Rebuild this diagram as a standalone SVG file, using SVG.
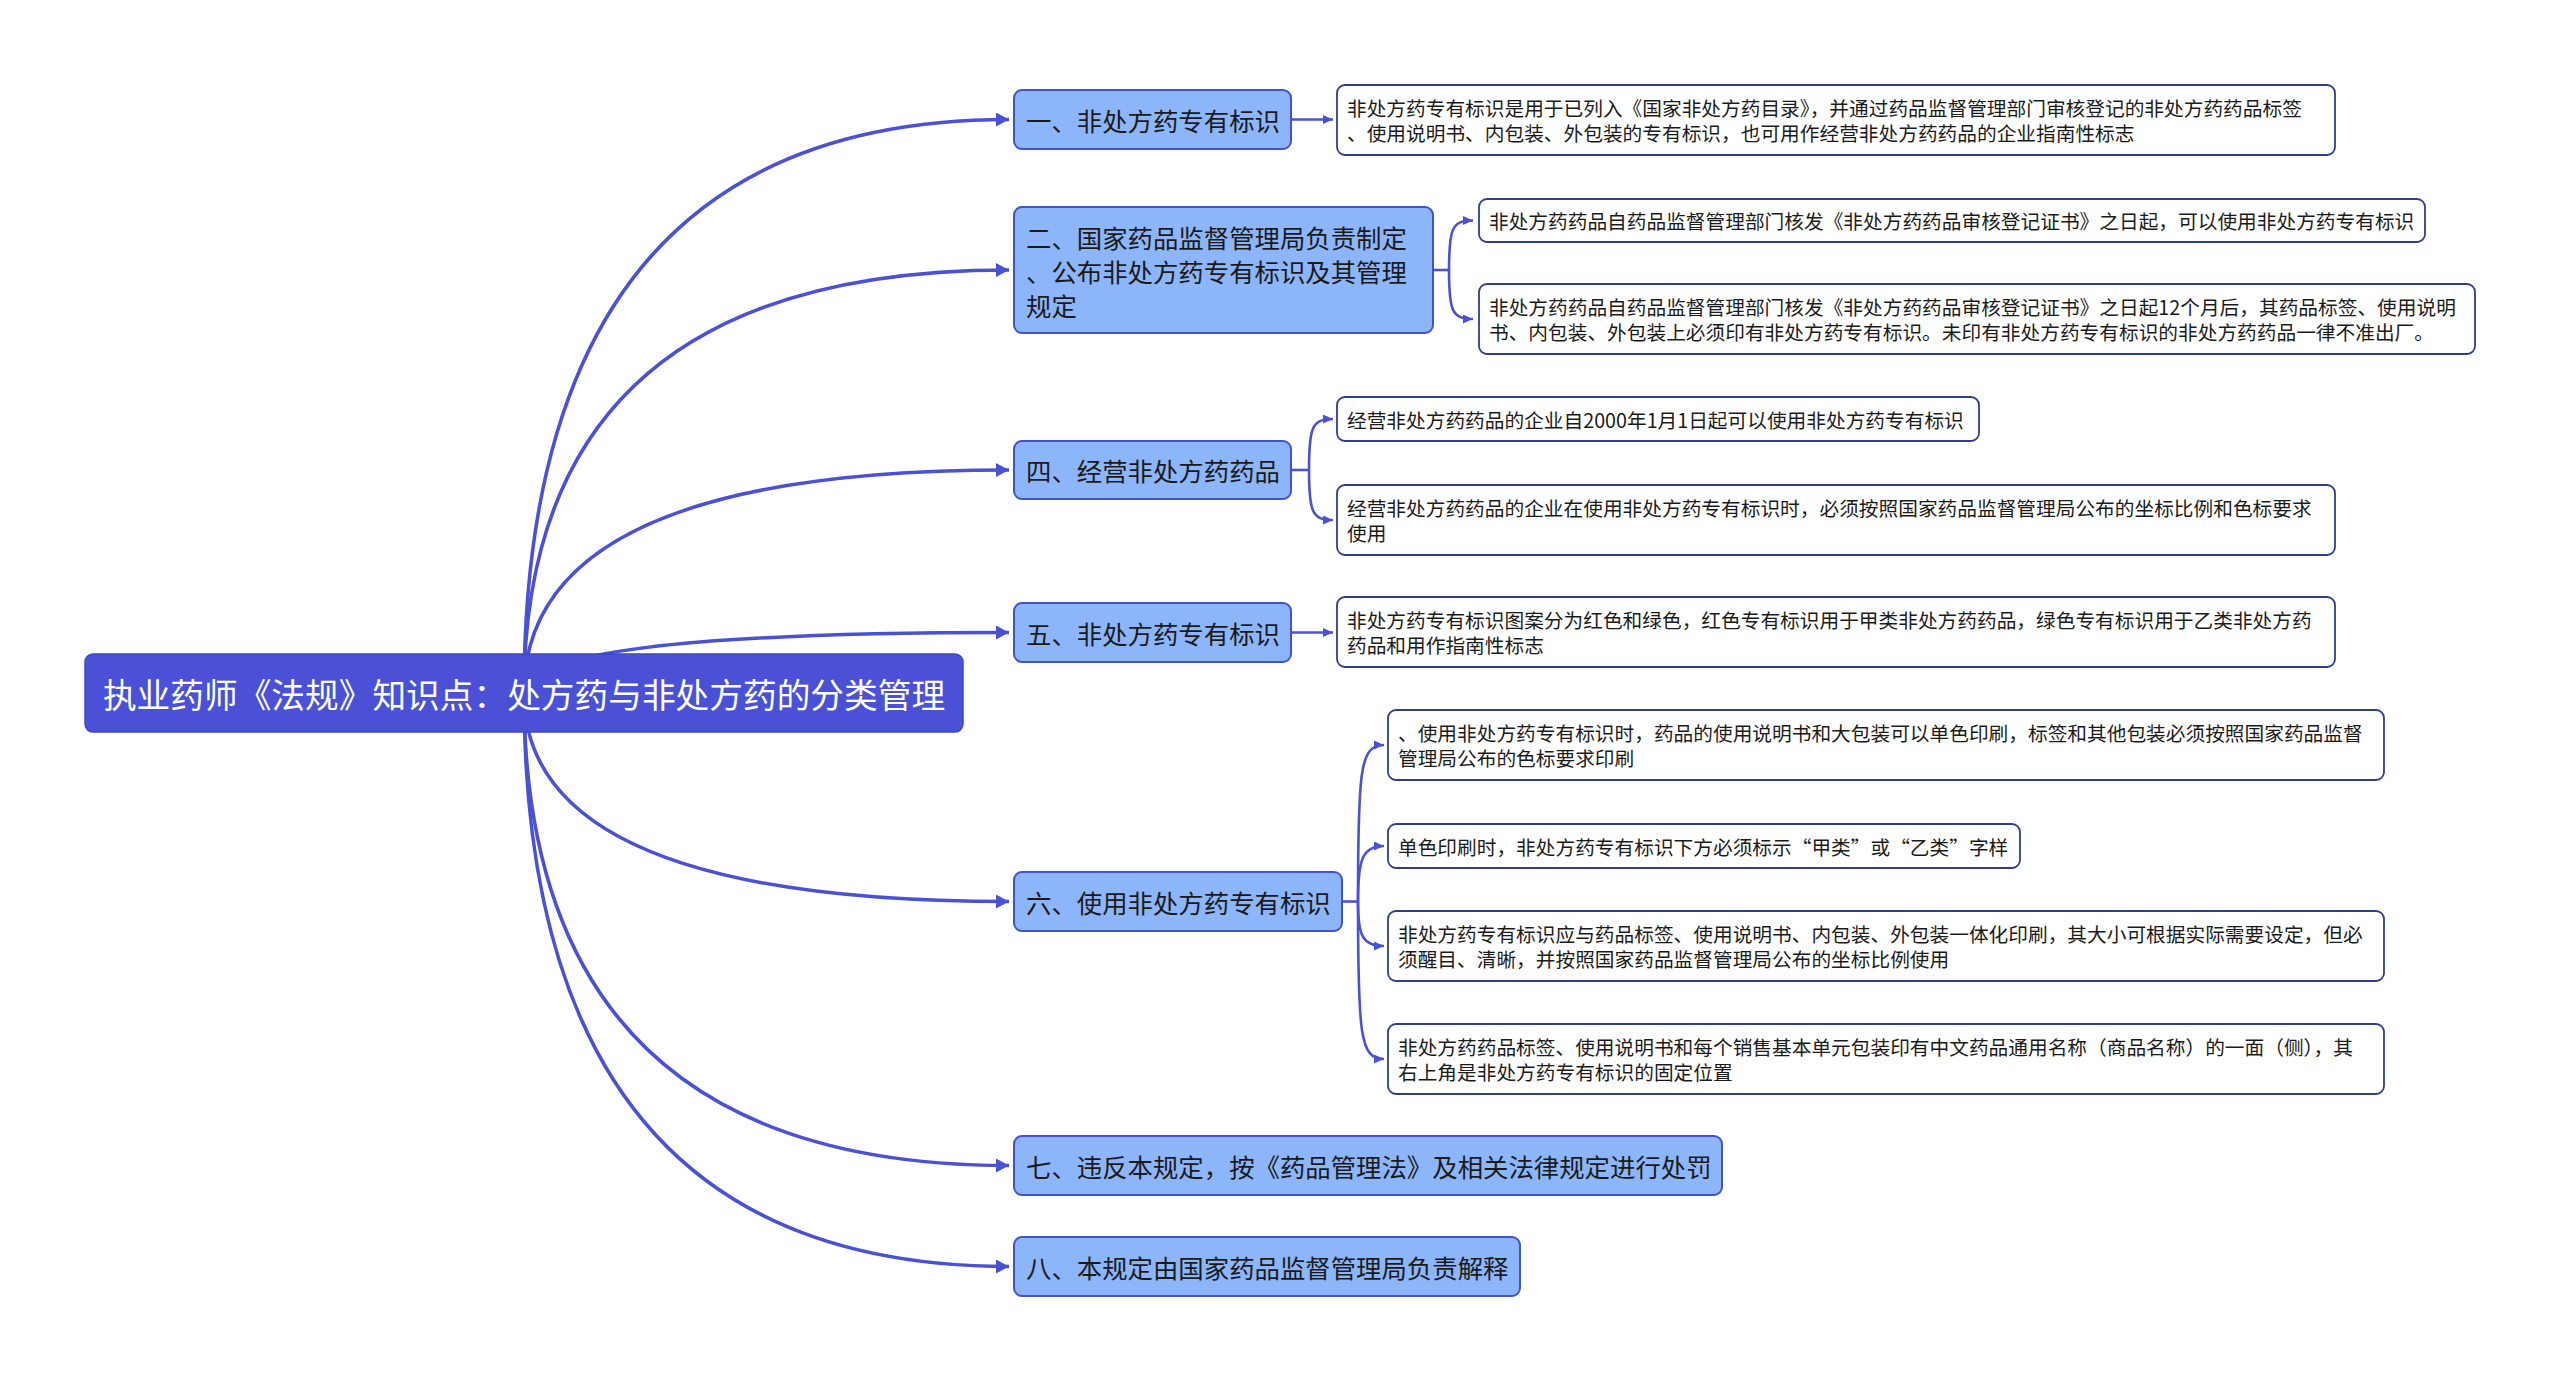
<svg xmlns="http://www.w3.org/2000/svg" width="2560" height="1381" viewBox="0 0 2560 1381">
<style>
text{font-family:"Noto Sans CJK SC","Noto Sans",sans-serif;dominant-baseline:central}
.root rect{fill:#4a51d7;stroke:#3f46c4;stroke-width:1.5}
.root text{fill:#ffffff;font-size:33.7px;text-anchor:middle}
.l1 rect{fill:#8cb5fa;stroke:#4352c8;stroke-width:2}
.l1 text{fill:#1a1a1a;font-size:25.4px}
.l2 rect{fill:#ffffff;stroke:#2f3d8f;stroke-width:1.8}
.l2 text{fill:#1a1a1a;font-size:19.7px}
.main{fill:none;stroke:#4a51d4;stroke-width:3.5;marker-end:url(#ab)}
.sub{fill:none;stroke:#4a51d4;stroke-width:2.6}
.suba{fill:none;stroke:#4a51d4;stroke-width:2.6;marker-end:url(#as)}
</style>
<defs>
<marker id="ab" markerUnits="userSpaceOnUse" markerWidth="14" markerHeight="14" refX="13" refY="7" orient="auto"><path d="M0,0 L13,7 L0,14 z" fill="#4a51d4"/></marker>
<marker id="as" markerUnits="userSpaceOnUse" markerWidth="11" markerHeight="10" refX="10" refY="4.5" orient="auto"><path d="M0,0 L10,4.5 L0,9 z" fill="#4a51d4"/></marker>
</defs>
<rect width="2560" height="1381" fill="#ffffff"/>
<g id="connectors">
<path class="main" d="M524,693 Q524,119.5 1009,119.5"/>
<path class="main" d="M524,693 Q524,270 1009,270"/>
<path class="main" d="M524,693 Q524,470 1009,470"/>
<path class="main" d="M524,693 Q524,632.5 1009,632.5"/>
<path class="main" d="M524,693 Q524,901.5 1009,901.5"/>
<path class="main" d="M524,693 Q524,1165.5 1009,1165.5"/>
<path class="main" d="M524,693 Q524,1266.5 1009,1266.5"/>
<path class="suba" d="M1291,119.5 H1333"/>
<path class="sub" d="M1433,270 H1449"/>
<path class="suba" d="M1449,270 C1449,228 1452,220.5 1473,220.5"/>
<path class="suba" d="M1449,270 C1449,311 1452,319 1473,319"/>
<path class="sub" d="M1291,470 H1309"/>
<path class="suba" d="M1309,470 C1309,427 1312,419 1333,419"/>
<path class="suba" d="M1309,470 C1309,512 1312,520 1333,520"/>
<path class="suba" d="M1291,632.5 H1333"/>
<path class="sub" d="M1342,901.5 H1358"/>
<path class="suba" d="M1358,901.5 C1358,770 1360,745 1384,745"/>
<path class="suba" d="M1358,901.5 C1358,860 1362,846 1384,846"/>
<path class="suba" d="M1358,901.5 C1358,935 1362,946 1384,946"/>
<path class="suba" d="M1358,901.5 C1358,1035 1360,1059 1384,1059"/>
</g>
<g id="root" class="root">
<rect x="85" y="654" width="878" height="78" rx="8"/>
<text x="524" y="693">执业药师《法规》知识点：处方药与非处方药的分类管理</text>
</g>
<g id="n1" class="l1"><rect x="1014" y="90" width="277" height="59" rx="8"/><text x="1026" y="119.5">一、非处方药专有标识</text></g>
<g id="n2" class="l1"><rect x="1014" y="207" width="419" height="126" rx="8"/><text x="1026" y="237">二、国家药品监督管理局负责制定</text><text x="1026" y="271">、公布非处方药专有标识及其管理</text><text x="1026" y="305">规定</text></g>
<g id="n4" class="l1"><rect x="1014" y="441" width="277" height="58" rx="8"/><text x="1026" y="470">四、经营非处方药药品</text></g>
<g id="n5" class="l1"><rect x="1014" y="603" width="277" height="59" rx="8"/><text x="1026" y="632.5">五、非处方药专有标识</text></g>
<g id="n6" class="l1"><rect x="1014" y="872" width="328" height="59" rx="8"/><text x="1026" y="901.5">六、使用非处方药专有标识</text></g>
<g id="n7" class="l1"><rect x="1014" y="1136" width="708" height="59" rx="8"/><text x="1026" y="1165.5">七、违反本规定，按《药品管理法》及相关法律规定进行处罚</text></g>
<g id="n8" class="l1"><rect x="1014" y="1237" width="506" height="59" rx="8"/><text x="1026" y="1266.5">八、本规定由国家药品监督管理局负责解释</text></g>
<g id="d1" class="l2"><rect x="1337" y="85" width="998" height="70" rx="8"/><text x="1347" y="107.5">非处方药专有标识是用于已列入《国家非处方药目录》，并通过药品监督管理部门审核登记的非处方药药品标签</text><text x="1347" y="132.5">、使用说明书、内包装、外包装的专有标识，也可用作经营非处方药药品的企业指南性标志</text></g>
<g id="d2a" class="l2"><rect x="1479" y="199" width="946" height="43" rx="8"/><text x="1489" y="220.5">非处方药药品自药品监督管理部门核发《非处方药药品审核登记证书》之日起，可以使用非处方药专有标识</text></g>
<g id="d2b" class="l2"><rect x="1479" y="284" width="996" height="70" rx="8"/><text x="1489" y="306.5">非处方药药品自药品监督管理部门核发《非处方药药品审核登记证书》之日起12个月后，其药品标签、使用说明</text><text x="1489" y="331.5">书、内包装、外包装上必须印有非处方药专有标识。未印有非处方药专有标识的非处方药药品一律不准出厂。</text></g>
<g id="d4a" class="l2"><rect x="1337" y="397" width="642" height="44" rx="8"/><text x="1347" y="419">经营非处方药药品的企业自2000年1月1日起可以使用非处方药专有标识</text></g>
<g id="d4b" class="l2"><rect x="1337" y="485" width="998" height="70" rx="8"/><text x="1347" y="507.5">经营非处方药药品的企业在使用非处方药专有标识时，必须按照国家药品监督管理局公布的坐标比例和色标要求</text><text x="1347" y="532.5">使用</text></g>
<g id="d5" class="l2"><rect x="1337" y="597" width="998" height="70" rx="8"/><text x="1347" y="619.5">非处方药专有标识图案分为红色和绿色，红色专有标识用于甲类非处方药药品，绿色专有标识用于乙类非处方药</text><text x="1347" y="644.5">药品和用作指南性标志</text></g>
<g id="d6a" class="l2"><rect x="1388" y="710" width="996" height="70" rx="8"/><text x="1398" y="732.5">、使用非处方药专有标识时，药品的使用说明书和大包装可以单色印刷，标签和其他包装必须按照国家药品监督</text><text x="1398" y="757.5">管理局公布的色标要求印刷</text></g>
<g id="d6b" class="l2"><rect x="1388" y="824" width="632" height="44" rx="8"/><text x="1398" y="846">单色印刷时，非处方药专有标识下方必须标示“甲类”或“乙类”字样</text></g>
<g id="d6c" class="l2"><rect x="1388" y="911" width="996" height="70" rx="8"/><text x="1398" y="933.5">非处方药专有标识应与药品标签、使用说明书、内包装、外包装一体化印刷，其大小可根据实际需要设定，但必</text><text x="1398" y="958.5">须醒目、清晰，并按照国家药品监督管理局公布的坐标比例使用</text></g>
<g id="d6d" class="l2"><rect x="1388" y="1024" width="996" height="70" rx="8"/><text x="1398" y="1046.5">非处方药药品标签、使用说明书和每个销售基本单元包装印有中文药品通用名称（商品名称）的一面（侧），其</text><text x="1398" y="1071.5">右上角是非处方药专有标识的固定位置</text></g>
</svg>
